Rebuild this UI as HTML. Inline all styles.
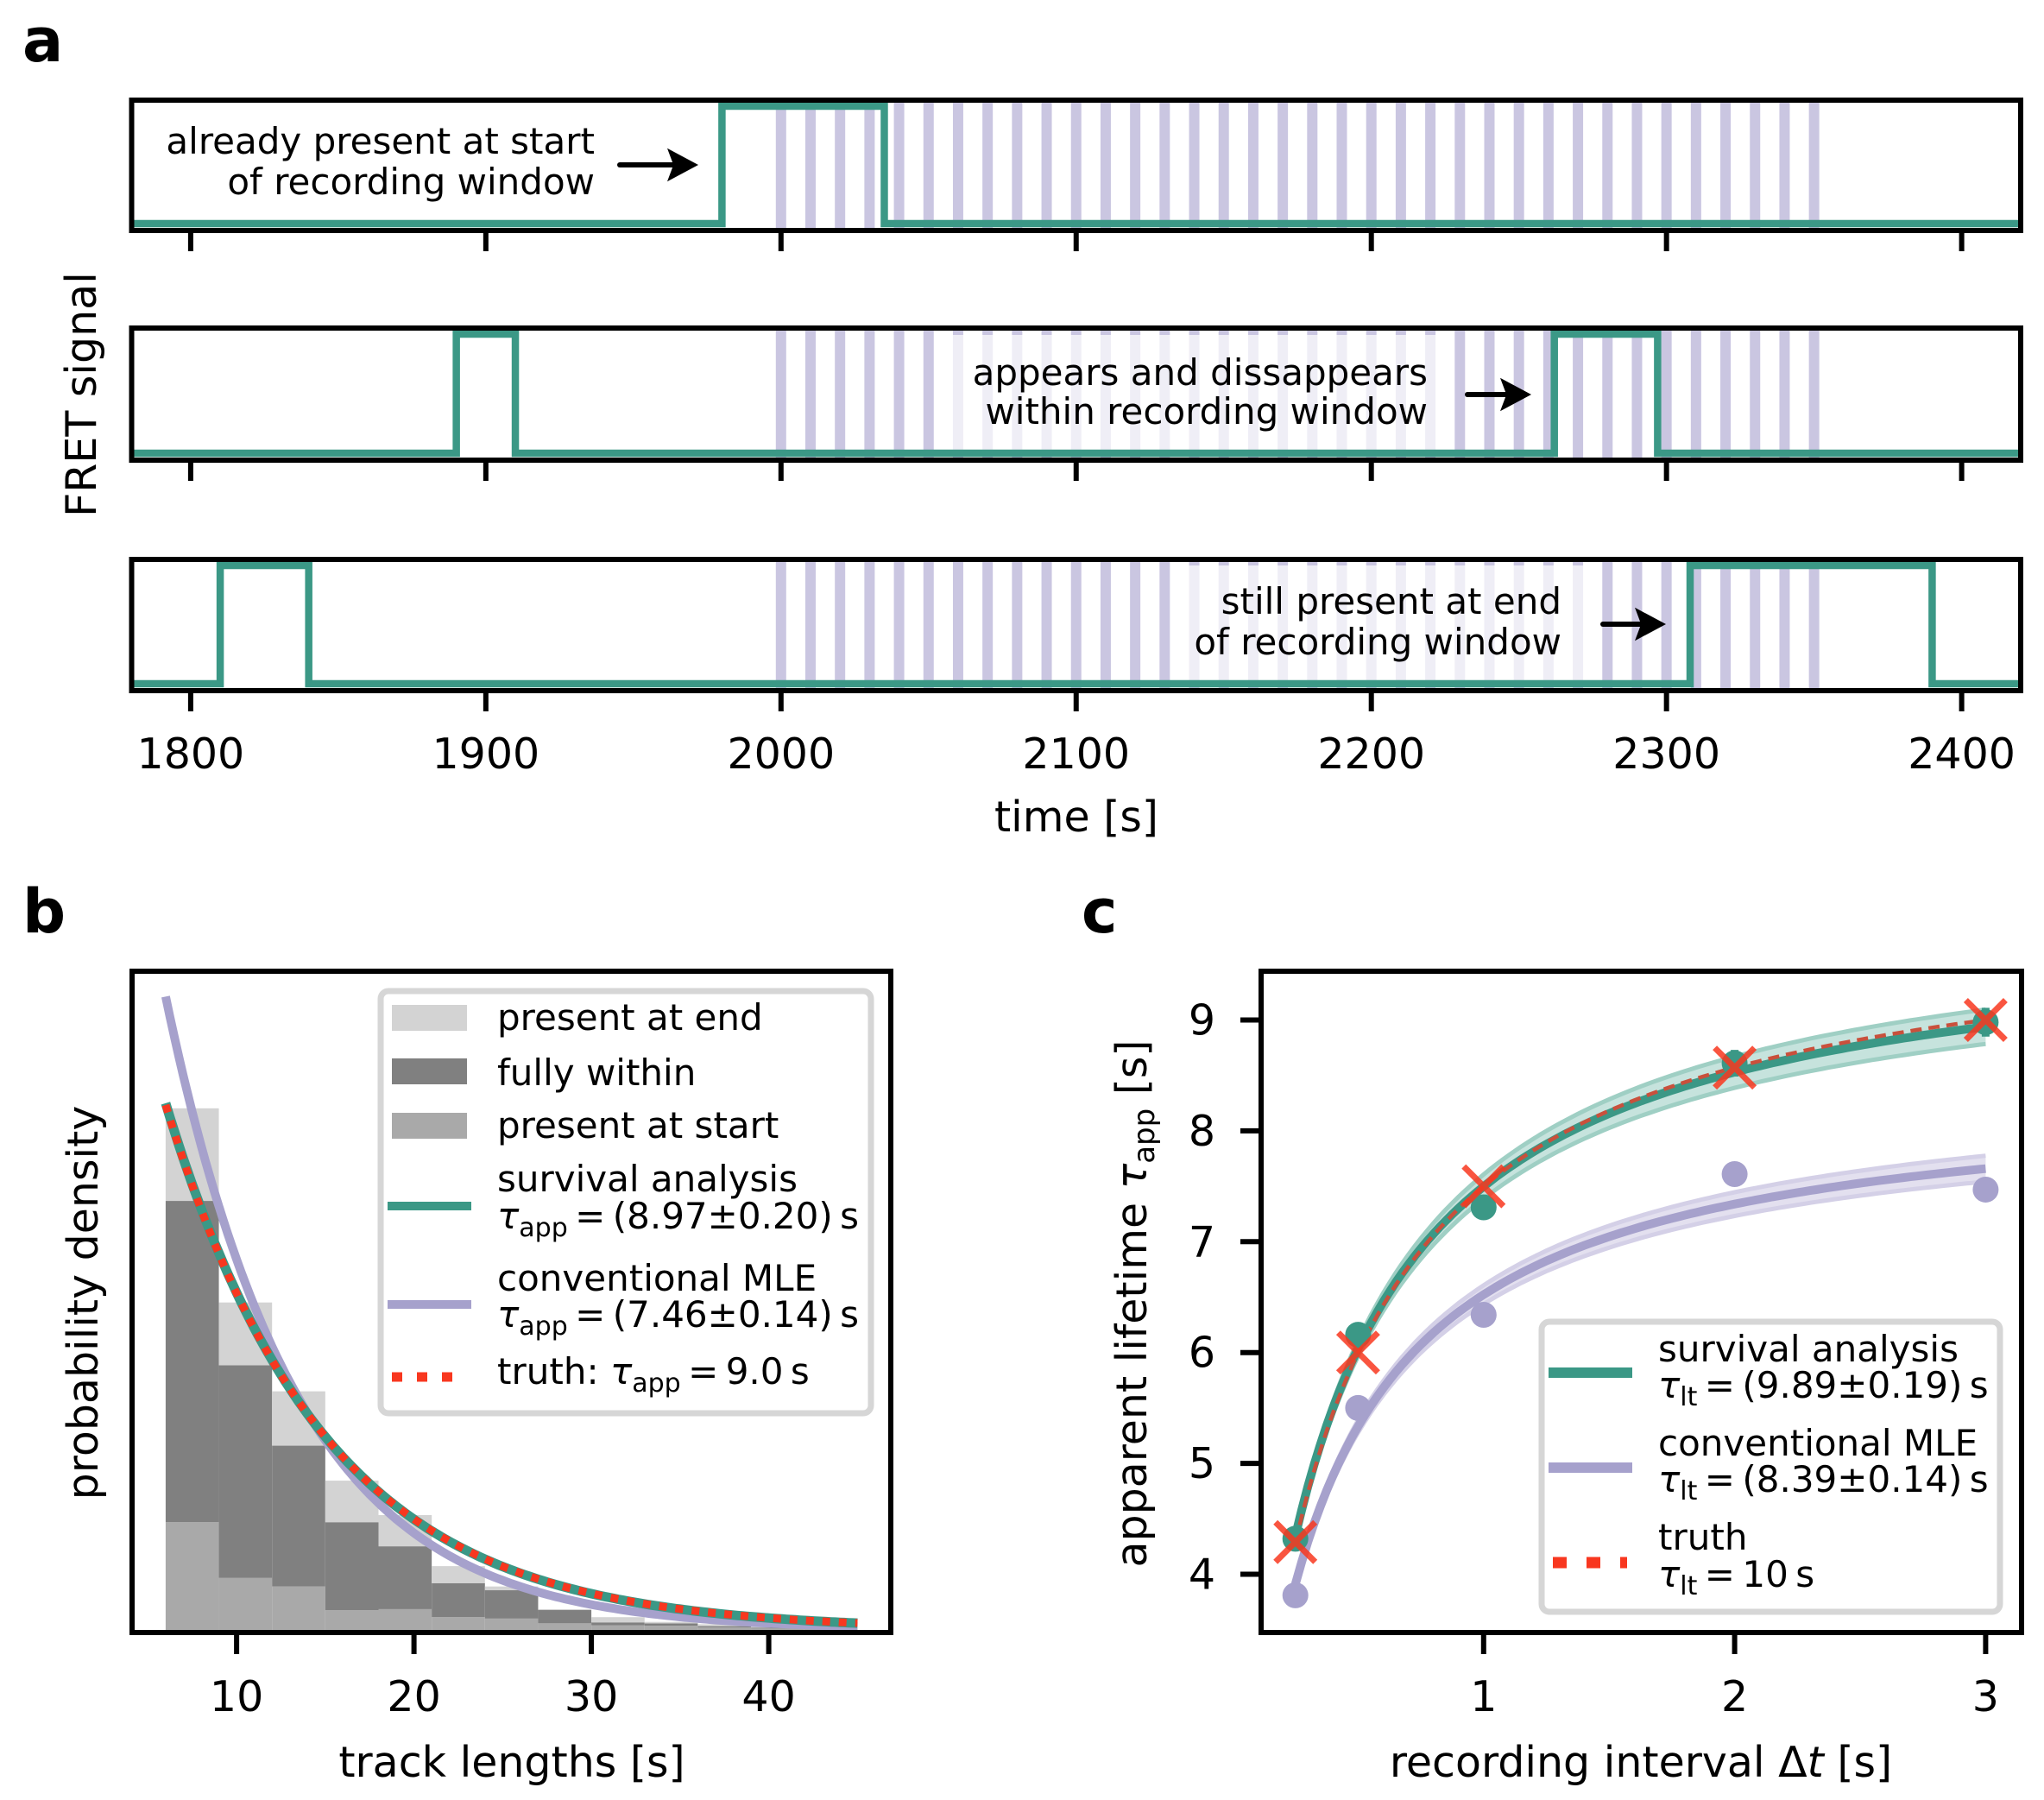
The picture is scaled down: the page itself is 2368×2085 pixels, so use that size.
<!DOCTYPE html>
<html><head><meta charset="utf-8">
<style>
html,body{margin:0;padding:0;background:#fff;}
svg{display:block;font-family:"DejaVu Sans","Liberation Sans",sans-serif;}
</style></head>
<body>
<svg id="fig" width="2368" height="2085" viewBox="0 0 2368 2085" xmlns="http://www.w3.org/2000/svg">
<defs>
  <clipPath id="clipA0"><rect x="152" y="116" width="2189" height="151"/></clipPath>
  <clipPath id="clipA1"><rect x="152" y="380" width="2189" height="153"/></clipPath>
  <clipPath id="clipA2"><rect x="152" y="648" width="2189" height="152"/></clipPath>
  <clipPath id="clipB"><rect x="153" y="1125" width="879" height="766"/></clipPath>
  <clipPath id="clipC"><rect x="1461" y="1125" width="881" height="766"/></clipPath>
  <marker id="arrowHead" markerWidth="7" markerHeight="7" refX="4" refY="3.5" orient="auto" markerUnits="strokeWidth">
    <path d="M0,0.3 L6,3.5 L0,6.7 L1.2,3.5 Z" fill="#000"/>
  </marker>
</defs>

<text x="26" y="71" font-size="70" font-weight="bold">a</text>
<text x="26" y="1080" font-size="70" font-weight="bold">b</text>
<text x="1253" y="1080" font-size="70" font-weight="bold">c</text>

<g id="panelA">
  <g id="a0"></g>
  <g id="a1"></g>
  <g id="a2"></g>
</g>
<text transform="translate(111,457) rotate(-90)" text-anchor="middle" font-size="49">FRET signal</text>
<text x="1247" y="963" text-anchor="middle" font-size="49">time [s]</text>

<g id="panelB"></g>
<text transform="translate(113,1509) rotate(-90)" text-anchor="middle" font-size="49">probability density</text>
<text x="593" y="2058" text-anchor="middle" font-size="49">track lengths [s]</text>

<g id="panelC"></g>
<text transform="translate(1328,1510) rotate(-90)" text-anchor="middle" font-size="49">apparent lifetime <tspan font-style="italic">τ</tspan><tspan font-size="34" dy="9">app</tspan><tspan dy="-9"> [s]</tspan></text>
<text x="1901" y="2058" text-anchor="middle" font-size="49">recording interval Δ<tspan font-style="italic">t</tspan> [s]</text>
</svg>

<script>
// ===== Panel a data =====
const aTicks = [1800, 1900, 2000, 2100, 2200, 2300, 2400];
const frameTimes = [2000,2010,2020,2030,2040,2050,2060,2070,2080,2090,2100,2110,2120,2130,2140,2150,2160,2170,2180,2190,2200,2210,2220,2230,2240,2250,2260,2270,2280,2290,2300,2310,2320,2330,2340,2350];
const traceTopOn = [1980];
const traceTopOff = [2035];
const traceMidOn = [1890, 2262];
const traceMidOff = [1910, 2297];
const traceBotOn = [1810, 2308];
const traceBotOff = [1840, 2390];

// ===== Panel b data =====
const binEdgesStart = [6,9,12,15,18,21,24,27,30,33,36,39,42];
const binWidth = 3;
const startH  = [0.0228,0.0110,0.0092,0.0042,0.0044,0.0027,0.0024,0.0014,0.0010,0.0009,0.0005,0.0003,0.0002];
const withinH = [0.0680,0.0450,0.0298,0.0186,0.0133,0.0072,0.0060,0.0028,0.0006,0.0005,0.0003,0.0002,0.0001];
const endH    = [0.0196,0.0133,0.0115,0.0088,0.0066,0.0036,0.0008,0.0002,0.0011,0.0003,0.0004,0.0003,0.0002];
const bTicks = [10, 20, 30, 40];
const bTauSurvival = [8.97];
const bTauMle = [7.46];
const bTauTruth = [9.0];
const bTmin = [6];
const bTmax = [45];

// ===== Panel c data =====
const dtPts = [0.25, 0.5, 1, 2, 3];
const survPts = [4.32, 6.16, 7.31, 8.61, 8.98];
const survErr = [0.05, 0.08, 0.10, 0.12, 0.13];
const mlePts = [3.81, 5.50, 6.34, 7.61, 7.47];
const mleErr = [0.04, 0.05, 0.08, 0.10, 0.10];
const truthPts = [4.29, 6.00, 7.50, 8.57, 9.00];
const survFit = [9.89, 0.19, 31];
const mleFit = [8.39, 0.14, 29.3];
const truthFit = [10, 0, 30];
const cXTicks = [1, 2, 3];
const cYTicks = [4, 5, 6, 7, 8, 9];

const NS = "http://www.w3.org/2000/svg";
function mk(parent, tag, attrs) {
  const el = document.createElementNS(NS, tag);
  for (const k in attrs) el.setAttribute(k, attrs[k]);
  parent.appendChild(el);
  return el;
}
const GREEN = "#3b9886", PURPLE = "#a6a1cc", RED = "#f8371f";
const TS = "\u2009";

// ---------- Panel a ----------
const ax = t => 152.5 + (t - 1780) * 2188.5 / 640;
const aPanels = [
  {g: "a0", top: 116, bot: 267, clip: "clipA0", on: traceTopOn, off: traceTopOff},
  {g: "a1", top: 380, bot: 533, clip: "clipA1", on: traceMidOn, off: traceMidOff},
  {g: "a2", top: 648, bot: 800, clip: "clipA2", on: traceBotOn, off: traceBotOff}
];
const bboxes = [null, [1103, 388, 570, 134], [1357, 655, 488, 134]];
aPanels.forEach((p, i) => {
  const g = document.getElementById(p.g);
  const ay = v => (p.bot - 8) - v * ((p.bot - 8) - (p.top + 7));
  const data = mk(g, "g", {"clip-path": "url(#" + p.clip + ")"});
  frameTimes.forEach(t => {
    const r = mk(data, "rect", {x: ax(t) - 6, y: p.top, width: 12, height: p.bot - p.top, fill: "#cac6e1"});
    
    
  });
  if (bboxes[i]) {
    const b = bboxes[i];
    const r = mk(data, "rect", {x: b[0], y: b[1], width: b[2], height: b[3], fill: "#fff", "fill-opacity": 0.7});
    
    
  }
  let d = "M" + ax(1770) + "," + ay(0);
  p.on.forEach((t, k) => {
    d += " L" + ax(t) + "," + ay(0) + " L" + ax(t) + "," + ay(1) + " L" + ax(p.off[k]) + "," + ay(1) + " L" + ax(p.off[k]) + "," + ay(0);
  });
  d += " L" + ax(2430) + "," + ay(0);
  const line = mk(data, "path", {d: d, fill: "none", stroke: GREEN, "stroke-width": 8.5, "stroke-linejoin": "miter"});
  
  
  const fr = mk(g, "rect", {x: 152.5, y: p.top, width: 2188.5, height: p.bot - p.top, fill: "none", stroke: "#000", "stroke-width": 6});
  
  
  aTicks.forEach(t => {
    const tk = mk(g, "line", {x1: ax(t), x2: ax(t), y1: p.bot, y2: p.bot + 24, stroke: "#000", "stroke-width": 6});
    
    
    if (i === 2) {
      const tl = mk(g, "text", {x: ax(t), y: 890, "text-anchor": "middle", "font-size": 49});
      tl.textContent = t;
      
      
    }
  });
});
function annot(gid, lines, xr, ys, ax1, ax2, ayv, name) {
  const g = document.getElementById(gid);
  lines.forEach((s, k) => {
    const t = mk(g, "text", {x: xr, y: ys[k], "text-anchor": "end", "font-size": 42});
    t.textContent = s;
    
    
  });
  const a = mk(g, "line", {x1: ax1, y1: ayv, x2: ax2, y2: ayv, stroke: "#000", "stroke-width": 6, "stroke-linecap": "round", "marker-end": "url(#arrowHead)"});
  
  
}
annot("a0", ["already present at start", "of recording window"], 689, [178, 225], 718, 797, 191, "start-annotation");
annot("a1", ["appears and dissappears", "within recording window"], 1654, [446, 491], 1700, 1762, 457, "within-annotation");
annot("a2", ["still present at end", "of recording window"], 1809, [711, 758], 1857, 1918, 723, "end-annotation");

// ---------- Panel b ----------
const gB = document.getElementById("panelB");
const bx = t => 68.6 + 20.55 * t;
const by = d => 1888 - d * 5473;
const bData = mk(gB, "g", {"clip-path": "url(#clipB)"});
binEdgesStart.forEach((e, i) => {
  const s = startH[i], w = withinH[i], en = endH[i];
  const r1 = mk(bData, "rect", {x: bx(e), y: by(s), width: bx(e + binWidth) - bx(e), height: by(0) - by(s), fill: "#a9a9a9"});
  
  
  const r2 = mk(bData, "rect", {x: bx(e), y: by(s + w), width: bx(e + binWidth) - bx(e), height: by(s) - by(s + w), fill: "#808080"});
  
  
  const r3 = mk(bData, "rect", {x: bx(e), y: by(s + w + en), width: bx(e + binWidth) - bx(e), height: by(s + w) - by(s + w + en), fill: "#d3d3d3"});
  
  
});
function expPath(tau) {
  let d = "";
  for (let t = bTmin[0]; t <= bTmax[0] + 0.001; t += 0.25) {
    const v = Math.exp(-(t - bTmin[0]) / tau) / tau;
    d += (d ? " L" : "M") + bx(t).toFixed(1) + "," + by(v).toFixed(1);
  }
  return d;
}
const pm = mk(bData, "path", {d: expPath(bTauMle[0]), fill: "none", stroke: PURPLE, "stroke-width": 10});


const ps = mk(bData, "path", {d: expPath(bTauSurvival[0]), fill: "none", stroke: GREEN, "stroke-width": 11});


const pt = mk(bData, "path", {d: expPath(bTauTruth[0]), fill: "none", stroke: RED, "stroke-width": 9, "stroke-dasharray": "9 10"});


const fb = mk(gB, "rect", {x: 153, y: 1125, width: 879, height: 766, fill: "none", stroke: "#000", "stroke-width": 6});


bTicks.forEach(t => {
  const tk = mk(gB, "line", {x1: bx(t), x2: bx(t), y1: 1891, y2: 1916, stroke: "#000", "stroke-width": 6});
  
  
  const tl = mk(gB, "text", {x: bx(t), y: 1982, "text-anchor": "middle", "font-size": 49});
  tl.textContent = t;
  
  
});
const lgB = mk(gB, "g", {});


mk(lgB, "rect", {x: 441, y: 1148, width: 568, height: 489, rx: 9, fill: "#fff", "fill-opacity": 0.85, stroke: "#d6d6d6", "stroke-width": 7});
[["#d3d3d3", 1164, "present at end", 1193], ["#808080", 1226, "fully within", 1257], ["#a9a9a9", 1289, "present at start", 1318]].forEach(e => {
  const r = mk(lgB, "rect", {x: 454, y: e[1], width: 87, height: 30, fill: e[0]});
  
  
  const t = mk(lgB, "text", {x: 576, y: e[3], "font-size": 42});
  t.textContent = e[2];
  
  
});
function tauLine(parent, x, y, sub, rest) {
  const t = mk(parent, "text", {x: x, y: y, "font-size": 42});
  t.innerHTML = '<tspan font-style="italic">τ</tspan><tspan font-size="30" dy="9">' + sub + '</tspan><tspan dy="-9">' + rest + '</tspan>';
  
  
  return t;
}
let l1 = mk(lgB, "line", {x1: 449, x2: 546, y1: 1397, y2: 1397, stroke: GREEN, "stroke-width": 10});


let t1 = mk(lgB, "text", {x: 576, y: 1380, "font-size": 42}); t1.textContent = "survival analysis";


tauLine(lgB, 576, 1423, "app", TS + "=" + TS + "(8.97±0.20)" + TS + "s");
let l2 = mk(lgB, "line", {x1: 449, x2: 546, y1: 1511, y2: 1511, stroke: PURPLE, "stroke-width": 10});


let t2 = mk(lgB, "text", {x: 576, y: 1495, "font-size": 42}); t2.textContent = "conventional MLE";


tauLine(lgB, 576, 1537, "app", TS + "=" + TS + "(7.46±0.14)" + TS + "s");
let l3 = mk(lgB, "line", {x1: 454, x2: 530, y1: 1595, y2: 1595, stroke: RED, "stroke-width": 11, "stroke-dasharray": "12 17"});


let t3 = mk(lgB, "text", {x: 576, y: 1603, "font-size": 42});
t3.innerHTML = 'truth: <tspan font-style="italic">τ</tspan><tspan font-size="30" dy="9">app</tspan><tspan dy="-9">' + TS + '=' + TS + '9.0' + TS + 's</tspan>';



// ---------- Panel c ----------
const gC = document.getElementById("panelC");
const cx = v => 1428 + 290.8 * v;
const cy = v => 1823.5 - (v - 4) * 128.4;
const model = (dt, tl, nb) => 1 / (1 / tl + 1 / (nb * dt));
const cData = mk(gC, "g", {"clip-path": "url(#clipC)"});
function curve(tl, nb) {
  let d = "";
  for (let t = 0.25; t <= 3.0001; t += 0.025) {
    d += (d ? " L" : "M") + cx(t).toFixed(1) + "," + cy(model(t, tl, nb)).toFixed(1);
  }
  return d;
}
function band(fit, fillC, edgeC, name) {
  const up = curve(fit[0] + fit[1], fit[2]);
  const lo = curve(fit[0] - fit[1], fit[2]);
  const loRev = lo.replace(/^M/, "").split(" L").reverse().join(" L");
  const f = mk(cData, "path", {d: up + " L" + loRev + " Z", fill: fillC, stroke: "none"});
  
  
  [up, lo].forEach(p => {
    const e = mk(cData, "path", {d: p, fill: "none", stroke: edgeC, "stroke-width": 5});
    
    
  });
}
band(mleFit, "#e3e0ef", "#d4d0e7", "mle");
band(survFit, "#c6e3dd", "#9fcfc4", "survival");
const cm = mk(cData, "path", {d: curve(mleFit[0], mleFit[2]), fill: "none", stroke: PURPLE, "stroke-width": 10});


const cs = mk(cData, "path", {d: curve(survFit[0], survFit[2]), fill: "none", stroke: GREEN, "stroke-width": 10});


const ct = mk(cData, "path", {d: curve(truthFit[0], truthFit[2]), fill: "none", stroke: "#c9503c", "stroke-width": 4.5, "stroke-dasharray": "13 8"});


dtPts.forEach((dt, i) => {
  const eb = mk(cData, "line", {x1: cx(dt), x2: cx(dt), y1: cy(mlePts[i] - mleErr[i]), y2: cy(mlePts[i] + mleErr[i]), stroke: PURPLE, "stroke-width": 9});
  
  
  const c = mk(cData, "circle", {cx: cx(dt), cy: cy(mlePts[i]), r: 15, fill: PURPLE});
  
  
});
dtPts.forEach((dt, i) => {
  const eb = mk(cData, "line", {x1: cx(dt), x2: cx(dt), y1: cy(survPts[i] - survErr[i]), y2: cy(survPts[i] + survErr[i]), stroke: GREEN, "stroke-width": 9});
  
  
  const c = mk(cData, "circle", {cx: cx(dt), cy: cy(survPts[i]), r: 15, fill: GREEN});
  
  
});
dtPts.forEach((dt, i) => {
  const X = cx(dt), Y = cy(truthPts[i]), s = 23;
  const m = mk(gC, "path", {d: "M" + (X - s) + "," + (Y - s) + " L" + (X + s) + "," + (Y + s) + " M" + (X - s) + "," + (Y + s) + " L" + (X + s) + "," + (Y - s), stroke: RED, "stroke-width": 7, "stroke-opacity": 0.85, fill: "none"});
  
  
});
const fc = mk(gC, "rect", {x: 1461, y: 1125, width: 881, height: 766, fill: "none", stroke: "#000", "stroke-width": 6});


cXTicks.forEach(t => {
  const tk = mk(gC, "line", {x1: cx(t), x2: cx(t), y1: 1891, y2: 1916, stroke: "#000", "stroke-width": 6});
  
  
  const tl = mk(gC, "text", {x: cx(t), y: 1982, "text-anchor": "middle", "font-size": 49});
  tl.textContent = t;
  
  
});
cYTicks.forEach(t => {
  const tk = mk(gC, "line", {x1: 1437, x2: 1461, y1: cy(t), y2: cy(t), stroke: "#000", "stroke-width": 6});
  
  
  const tl = mk(gC, "text", {x: 1408, y: cy(t) + 17, "text-anchor": "end", "font-size": 49});
  tl.textContent = t;
  
  
});
const lgC = mk(gC, "g", {});


mk(lgC, "rect", {x: 1786, y: 1531, width: 531, height: 336, rx: 9, fill: "#fff", "fill-opacity": 0.85, stroke: "#d6d6d6", "stroke-width": 7});
let m1 = mk(lgC, "line", {x1: 1794, x2: 1891, y1: 1590, y2: 1590, stroke: GREEN, "stroke-width": 12});


let u1 = mk(lgC, "text", {x: 1921, y: 1577, "font-size": 42}); u1.textContent = "survival analysis";


tauLine(lgC, 1921, 1619, "lt", TS + "=" + TS + "(9.89±0.19)" + TS + "s");
let m2 = mk(lgC, "line", {x1: 1794, x2: 1891, y1: 1700, y2: 1700, stroke: PURPLE, "stroke-width": 12});


let u2 = mk(lgC, "text", {x: 1921, y: 1686, "font-size": 42}); u2.textContent = "conventional MLE";


tauLine(lgC, 1921, 1728, "lt", TS + "=" + TS + "(8.39±0.14)" + TS + "s");
let m3 = mk(lgC, "line", {x1: 1799, x2: 1885, y1: 1810, y2: 1810, stroke: RED, "stroke-width": 13, "stroke-dasharray": "16 23"});


let u3 = mk(lgC, "text", {x: 1921, y: 1795, "font-size": 42}); u3.textContent = "truth";


tauLine(lgC, 1921, 1838, "lt", TS + "=" + TS + "10" + TS + "s");
</script>
</body></html>
